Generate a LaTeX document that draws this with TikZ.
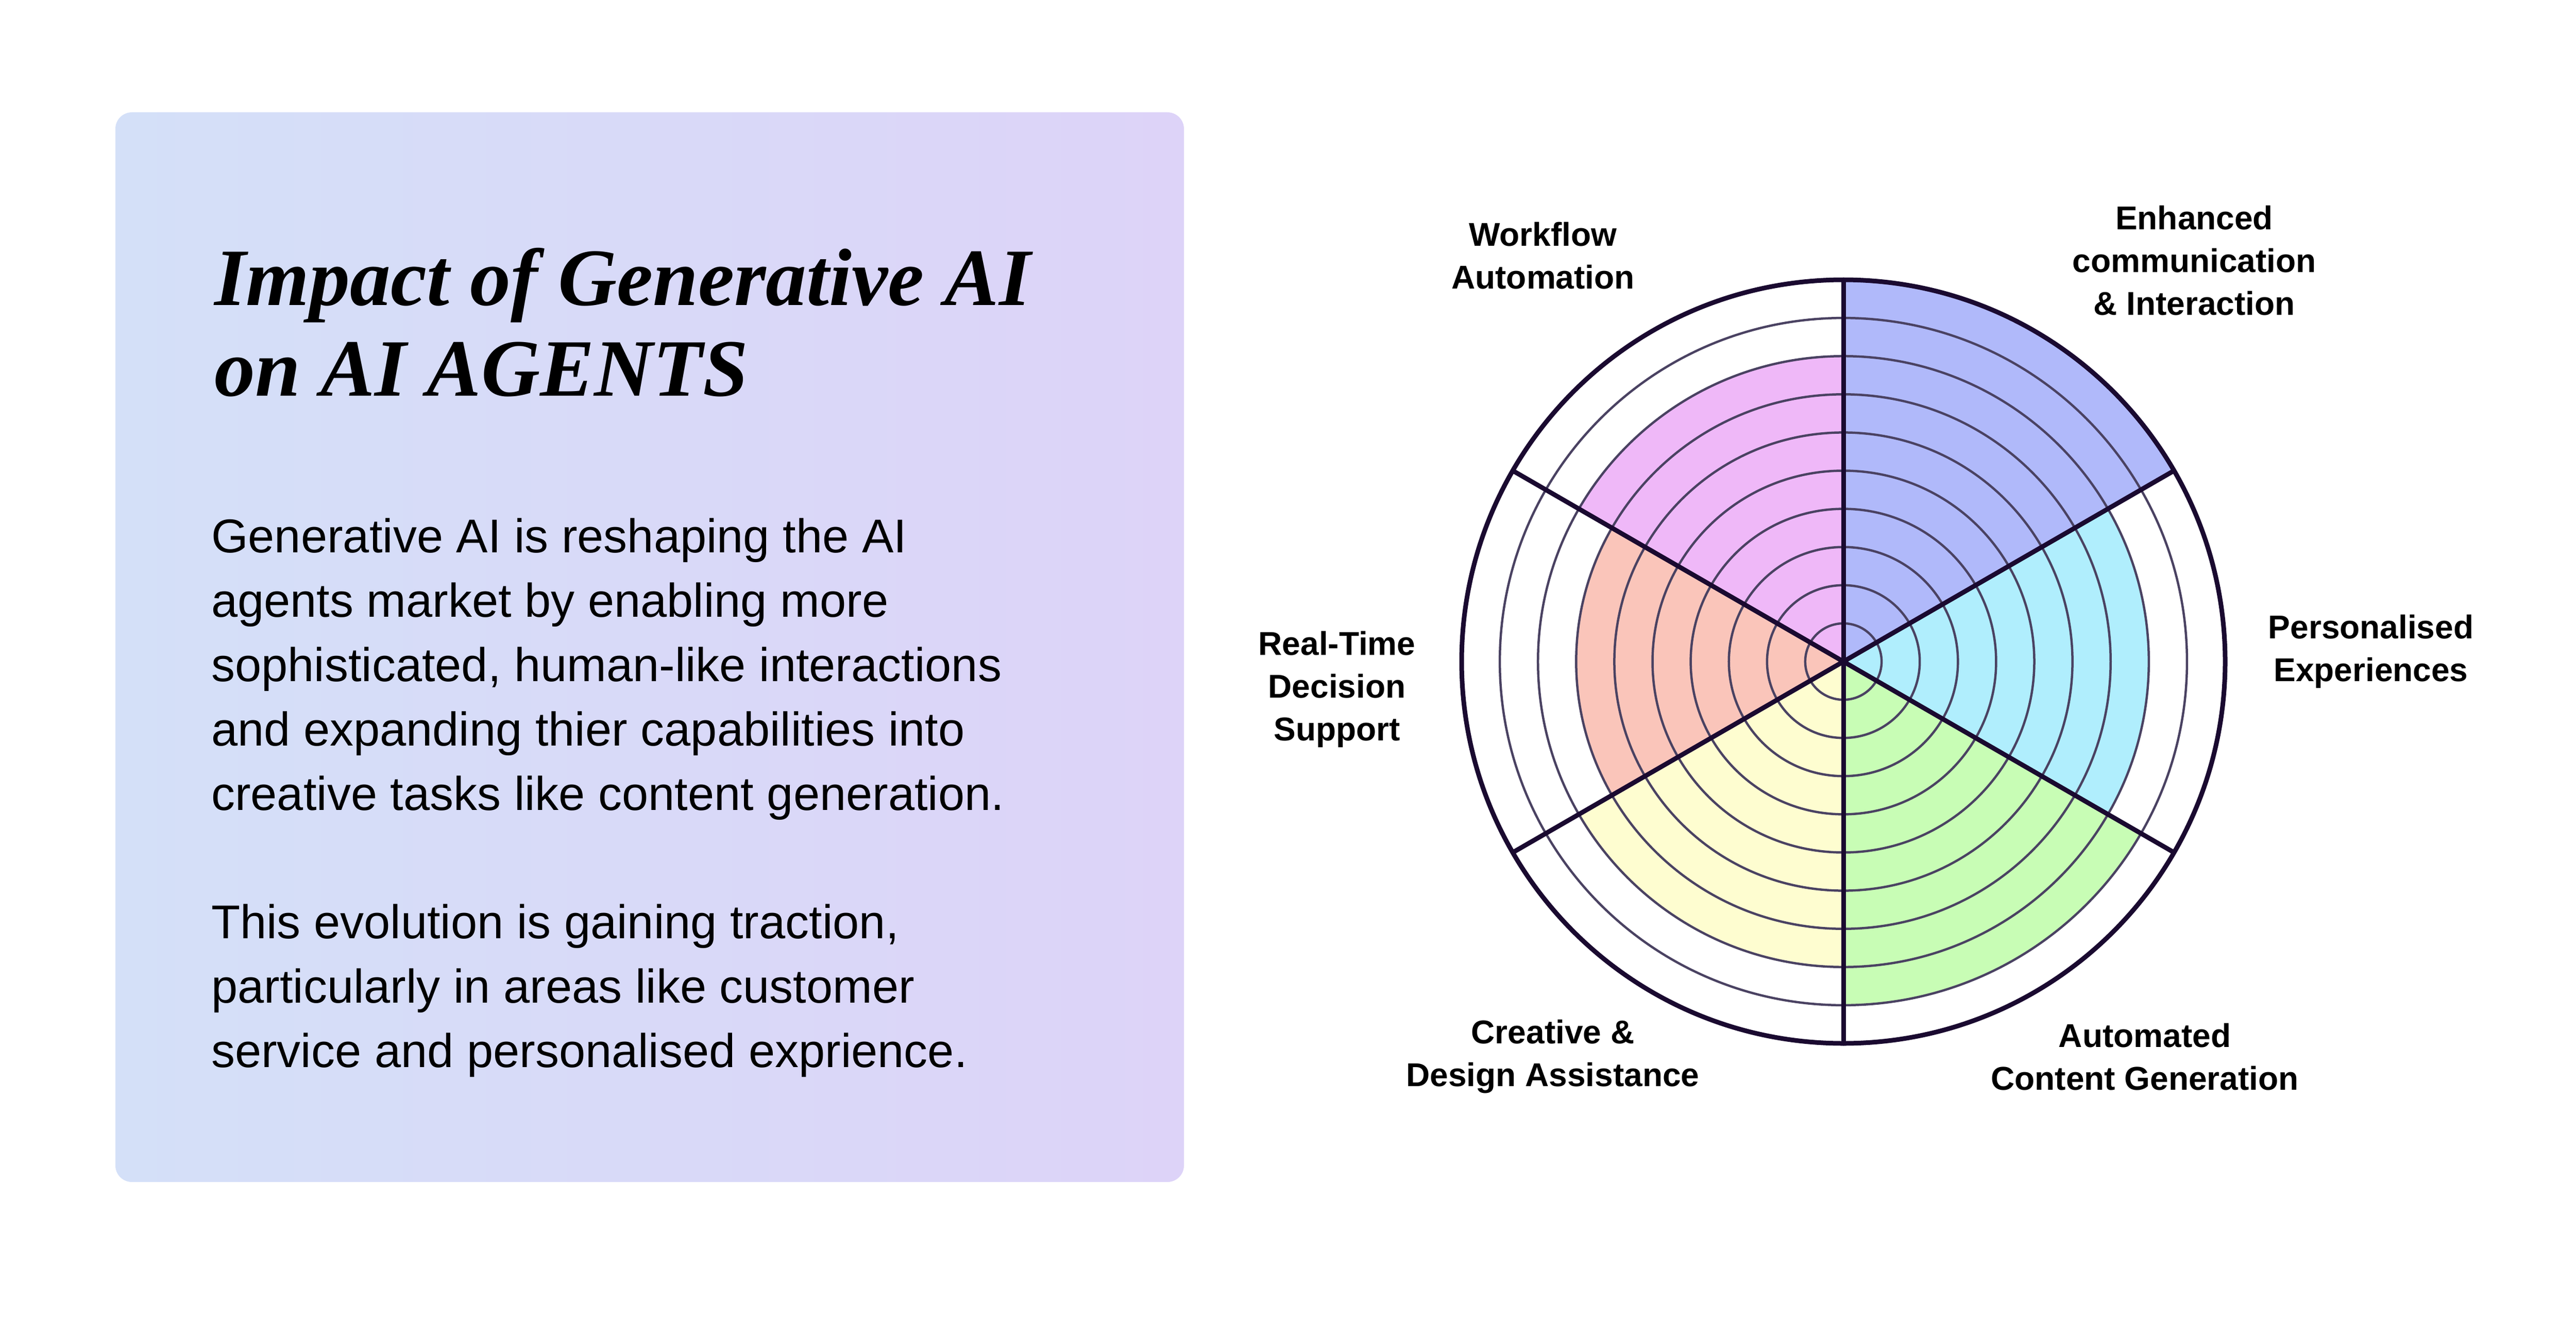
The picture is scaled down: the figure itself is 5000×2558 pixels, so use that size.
\documentclass[tikz,border=0pt]{standalone}
\usepackage{fontspec}
\setmainfont{Liberation Sans}
\newfontfamily\titlefont{Liberation Serif}
\begin{document}
\begin{tikzpicture}[x=1pt,y=-1pt,
  ring/.style={draw=ringc,line width=4.5pt},
  thick/.style={draw=darkc,line width=9pt},
  lab/.style={font=\fontsize{64}{83}\selectfont\bfseries,align=center,text=black},
  body/.style={font=\fontsize{92}{125}\selectfont,anchor=base west,inner sep=0},
  ttl/.style={font=\titlefont\fontsize{158}{192}\selectfont\bfseries\itshape,anchor=base west,inner sep=0}]
\definecolor{ringc}{HTML}{4A4262}
\definecolor{darkc}{HTML}{1A0A30}
\definecolor{bl}{HTML}{B0B9FA}
\definecolor{cy}{HTML}{B0EEFD}
\definecolor{gr}{HTML}{C8FDB5}
\definecolor{ye}{HTML}{FEFDD0}
\definecolor{sa}{HTML}{FAC5BA}
\definecolor{pi}{HTML}{EFB8F8}
\definecolor{gl}{HTML}{D4E0F8}
\definecolor{gri}{HTML}{DDD3F8}
\useasboundingbox[fill=white] (0,0) rectangle (5000,2558);
\shade[left color=gl,right color=gri,rounded corners=32pt] (224,218) rectangle (2298,2294);
\node[ttl] (t1) at (416,592) {Impact of Generative AI};
\node[ttl] (t2) at (416,768) {on AI AGENTS};
\node[body] (b1) at (410,1072) {Generative AI is reshaping the AI};
\node[body] (b2) at (410,1197) {agents market by enabling more};
\node[body] (b3) at (410,1322) {sophisticated, human-like interactions};
\node[body] (b4) at (410,1447) {and expanding thier capabilities into};
\node[body] (b5) at (410,1572) {creative tasks like content generation.};
\node[body] (b6) at (410,1821) {This evolution is gaining traction,};
\node[body] (b7) at (410,1946) {particularly in areas like customer};
\node[body] (b8) at (410,2071) {service and personalised exprience.};
\coordinate (c) at (3578,1284);
\def\u{74.1}
% sectors (y axis flipped: use negative angles for upward)
\fill[bl] (c) -- ++(-90:10*\u) arc[start angle=-90,end angle=-30,radius=10*\u] -- cycle;
\fill[cy] (c) -- ++(-30:8*\u) arc[start angle=-30,end angle=30,radius=8*\u] -- cycle;
\fill[gr] (c) -- ++(30:9*\u) arc[start angle=30,end angle=90,radius=9*\u] -- cycle;
\fill[ye] (c) -- ++(90:8*\u) arc[start angle=90,end angle=150,radius=8*\u] -- cycle;
\fill[sa] (c) -- ++(150:7*\u) arc[start angle=150,end angle=210,radius=7*\u] -- cycle;
\fill[pi] (c) -- ++(210:8*\u) arc[start angle=210,end angle=270,radius=8*\u] -- cycle;
\foreach \k in {1,...,9} \draw[ring] (c) circle[radius=\k*\u];
\draw[thick] (c) circle[radius=10*\u];
\foreach \a in {-90,-30,30,90,150,210} \draw[thick,line cap=round] (c) -- ++(\a:10*\u) coordinate (e\a);
\node[lab] (l1) at (2995,496) {Workflow\\Automation};
\node[lab] (l2) at (4259,506) {Enhanced\\communication\\\& Interaction};
\node[lab] (l3) at (4602,1264) {Personalised\\Experiences};
\node[lab] (l4) at (2595,1338) {Real-Time\\Decision\\Support};
\node[lab] (l5) at (3014,2051) {Creative \&\\Design Assistance};
\node[lab] (l6) at (4163,2051) {Automated\\Content Generation};
\end{tikzpicture}
\end{document}
